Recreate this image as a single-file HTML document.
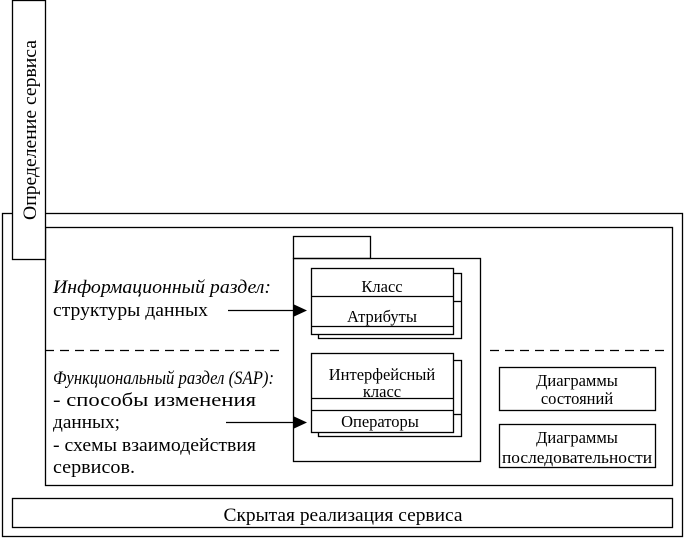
<!DOCTYPE html>
<html><head><meta charset="utf-8"><style>
html,body{margin:0;padding:0;background:#fff;width:688px;height:542px;overflow:hidden}
svg text{font-family:"Liberation Serif",serif;fill:#000}
</style></head><body>
<svg width="688" height="542" viewBox="0 0 688 542" xmlns="http://www.w3.org/2000/svg">
<g fill="none" stroke="#000" stroke-width="1.3">
<rect x="2.5" y="213.5" width="680" height="323" fill="#fff"/>
<rect x="45.5" y="227.5" width="627" height="258"/>
<rect x="12.5" y="498.5" width="660" height="29"/>
<rect x="12.5" y="0.5" width="33" height="259" fill="#fff"/>
<line x1="45" y1="350.5" x2="282" y2="350.5" stroke-dasharray="9,6"/>
<line x1="490" y1="350.5" x2="668" y2="350.5" stroke-dasharray="9,6"/>
<rect x="293.5" y="236.5" width="77" height="22"/>
<rect x="293.5" y="258.5" width="187" height="203"/>
<rect x="318.5" y="273.5" width="143" height="65" fill="#fff"/>
<line x1="453" y1="301.5" x2="462" y2="301.5"/>
<rect x="311.5" y="268.5" width="142" height="66" fill="#fff"/>
<line x1="311" y1="296.5" x2="453" y2="296.5"/>
<line x1="311" y1="326.5" x2="453" y2="326.5"/>
<rect x="318.5" y="360.5" width="143" height="76" fill="#fff"/>
<line x1="453" y1="414.5" x2="462" y2="414.5"/>
<rect x="311.5" y="353.5" width="142" height="79" fill="#fff"/>
<line x1="311" y1="398.5" x2="453" y2="398.5"/>
<line x1="311" y1="410.5" x2="453" y2="410.5"/>
<rect x="499.5" y="367.5" width="156" height="43"/>
<rect x="499.5" y="424.5" width="156" height="43"/>
<line x1="228" y1="310.5" x2="295" y2="310.5"/>
<line x1="226" y1="422.5" x2="295" y2="422.5"/>
</g>
<polygon points="293,304 307,310.5 293,317" fill="#000"/>
<polygon points="293,416 307,422.5 293,429" fill="#000"/>
<text x="36" y="130" font-size="19" text-anchor="middle" transform="rotate(-90 36 130)" textLength="180" lengthAdjust="spacingAndGlyphs">Определение сервиса</text>
<g font-size="16.5" text-anchor="middle">
<text x="382" y="292">Класс</text>
<text x="382" y="322">Атрибуты</text>
<text x="382" y="380">Интерфейсный</text>
<text x="382" y="397">класс</text>
<text x="380" y="427">Операторы</text>
<text x="577" y="386">Диаграммы</text>
<text x="577" y="404">состояний</text>
<text x="577" y="443">Диаграммы</text>
<text x="577" y="463" textLength="150" lengthAdjust="spacingAndGlyphs">последовательности</text>
</g>
<text x="343" y="521" font-size="19" text-anchor="middle" textLength="239" lengthAdjust="spacingAndGlyphs">Скрытая реализация сервиса</text>
<g font-size="19">
<text x="53" y="293" font-style="italic" textLength="218" lengthAdjust="spacingAndGlyphs">Информационный раздел:</text>
<text x="53" y="316" textLength="155" lengthAdjust="spacingAndGlyphs">структуры данных</text>
<text x="53" y="384" font-style="italic" textLength="221" lengthAdjust="spacingAndGlyphs">Функциональный раздел (SAP):</text>
<text x="53" y="406" textLength="203" lengthAdjust="spacingAndGlyphs">- способы изменения</text>
<text x="53" y="428" textLength="67" lengthAdjust="spacingAndGlyphs">данных;</text>
<text x="53" y="451" textLength="203" lengthAdjust="spacingAndGlyphs">- схемы взаимодействия</text>
<text x="53" y="473" textLength="82" lengthAdjust="spacingAndGlyphs">сервисов.</text>
</g>
</svg>
</body></html>
